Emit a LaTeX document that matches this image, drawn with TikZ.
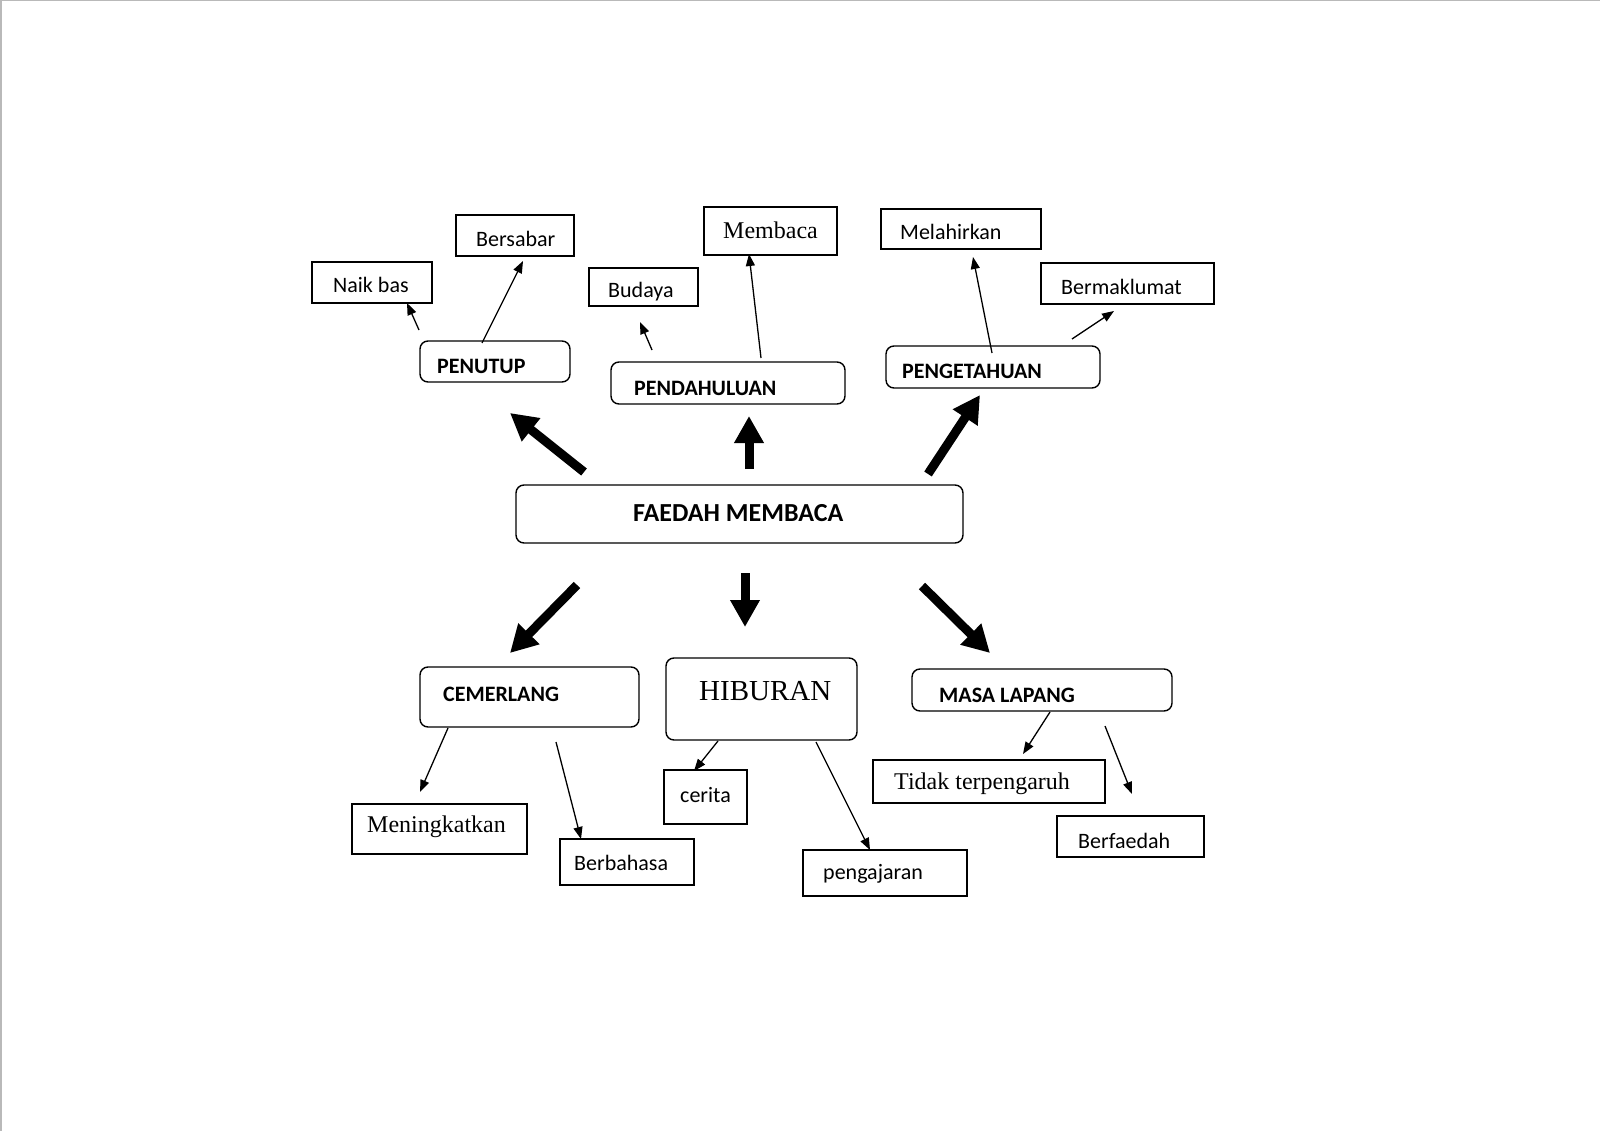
\documentclass[tikz,border=0pt]{standalone}
\usepackage{fontspec}
\setmainfont{Carlito}
\newfontfamily\serifx{Liberation Serif}
\usetikzlibrary{arrows.meta}
\tikzset{
  box/.style={draw=black,line width=1.4pt,inner sep=0pt},
  rbox/.style={box,rounded corners=8pt},
  lab/.style={anchor=west,inner sep=0pt,font=\fontsize{22}{26}\selectfont},
  blab/.style={lab,font=\fontsize{22}{26}\selectfont\bfseries},
  slab/.style={lab,font=\fontsize{24}{28}\selectfont\serifx},
  thinarr/.style={line width=1.3pt,-{Triangle[length=12pt,width=9pt]}},
  thickarr/.style={line width=9pt,-{Triangle[length=27pt,width=28pt]}}
}
\newcommand\mkbox[6]{\node[#1,minimum width={(#5-#3)*1pt},minimum height={(#6-#4)*1pt}] (#2) at ({(#3+#5)/2},{(#4+#6)/2}) {};}
\begin{document}
\begin{tikzpicture}[x=1pt,y=-1pt]
\useasboundingbox (0,0) rectangle (1600,1131);
\fill[white] (0,0) rectangle (1600,1131);
\draw[gray!55,line width=1.5pt] (0.75,1131) -- (0.75,0.75) -- (1600,0.75);
% boxes
\mkbox{rbox}{faedah}{516}{485}{963}{543}
\mkbox{rbox}{pen}{420}{341}{570}{382}
\mkbox{rbox}{pend}{611}{362}{845}{404}
\mkbox{rbox}{peng}{886}{346}{1100}{388}
\mkbox{box}{naik}{312}{262}{432}{303}
\mkbox{box}{bers}{456}{215}{574}{256}
\mkbox{box}{bud}{589}{268}{698}{306}
\mkbox{box}{memb}{704}{207}{837}{255}
\mkbox{box}{mel}{881}{209}{1041}{249}
\mkbox{box}{berm}{1041}{263}{1214}{304}
\mkbox{rbox}{cem}{420}{667}{639}{727}
\mkbox{rbox}{hib}{666}{658}{857}{740}
\mkbox{rbox}{masa}{912}{669}{1172}{711}
\mkbox{box}{men}{352}{804}{527}{854}
\mkbox{box}{berb}{560}{839}{694}{885}
\mkbox{box}{cer}{664}{770}{747}{824}
\mkbox{box}{pengaj}{803}{850}{967}{896}
\mkbox{box}{tidak}{873}{760}{1105}{803}
\mkbox{box}{berf}{1057}{816}{1204}{857}
% labels
\node[blab,font=\fontsize{26}{30}\selectfont\bfseries] (faedah-t) at (633,513) {FAEDAH MEMBACA};
\node[blab] (pen-t) at (437,366) {PENUTUP};
\node[blab] (pend-t) at (634,388) {PENDAHULUAN};
\node[blab] (peng-t) at (902,371) {PENGETAHUAN};
\node[blab] (cem-t) at (443,694) {CEMERLANG};
\node[blab] (masa-t) at (939,695) {MASA LAPANG};
\node[slab,font=\fontsize{29}{34}\selectfont\serifx] (hib-t) at (699,691) {HIBURAN};
\node[lab] (naik-t) at (333,285) {Naik bas};
\node[lab] (bers-t) at (476,239) {Bersabar};
\node[lab] (bud-t) at (608,292) {Budaya};
\node[slab] (memb-t) at (723,230) {Membaca};
\node[lab] (mel-t) at (900,232) {Melahirkan};
\node[lab] (berm-t) at (1061,287) {Bermaklumat};
\node[slab] (men-t) at (367,827) {Meningkatkan};
\node[lab] (berb-t) at (574,863) {Berbahasa};
\node[lab] (cer-t) at (680,795) {cerita};
\node[lab] (pengaj-t) at (823,874) {pengajaran};
\node[slab] (tidak-t) at (894,784) {Tidak terpengaruh};
\node[lab] (berf-t) at (1078,841) {Berfaedah};
% thin connector end points
\coordinate (a1) at (419,330); \coordinate (b1) at (407,303);
\coordinate (a2) at (482,343); \coordinate (b2) at (523,261);
\coordinate (a3) at (652,350); \coordinate (b3) at (640,322);
\coordinate (a4) at (761,358); \coordinate (b4) at (749,254);
\coordinate (a5) at (992,353); \coordinate (b5) at (973,257);
\coordinate (a6) at (1072,339); \coordinate (b6) at (1114,311);
\coordinate (a7) at (448,728); \coordinate (b7) at (420,792);
\coordinate (a8) at (556,742); \coordinate (b8) at (581,839);
\coordinate (a9) at (718,741); \coordinate (b9) at (694,771);
\coordinate (a10) at (816,742); \coordinate (b10) at (870,850);
\coordinate (a11) at (1050,712); \coordinate (b11) at (1023,754);
\coordinate (a12) at (1105,726); \coordinate (b12) at (1132,794);
\foreach \i in {1,...,12} {\draw[thinarr] (a\i) -- (b\i);}
% thick arrows
\coordinate (t1a) at (584,472); \coordinate (t1b) at (510,413);
\coordinate (t2a) at (749,469); \coordinate (t2b) at (749,416);
\coordinate (t3a) at (928,474); \coordinate (t3b) at (980,395);
\coordinate (t4a) at (577,585); \coordinate (t4b) at (510,653);
\coordinate (t5a) at (745,573); \coordinate (t5b) at (745,627);
\coordinate (t6a) at (922,586); \coordinate (t6b) at (990,653);
\foreach \i in {1,...,6} {\draw[thickarr] (t\i a) -- (t\i b);}
\end{tikzpicture}
\end{document}
